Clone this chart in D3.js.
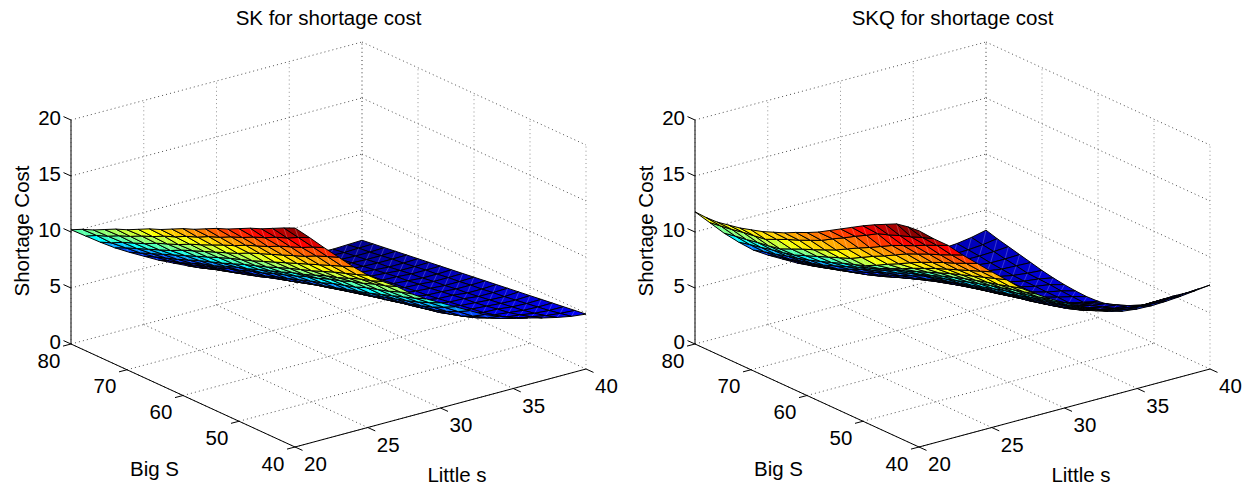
<!DOCTYPE html>
<html><head><meta charset="utf-8">
<style>html,body{margin:0;padding:0;background:#fff}svg{display:block}text{font-family:"Liberation Sans",Arial,sans-serif;fill:#000;font-size:20.5px}</style>
<script src="https://cdn.jsdelivr.net/npm/d3@7/dist/d3.min.js"></script>
</head><body><svg id="c" width="1247" height="485"></svg>
<script>
const littleS = d3.range(20, 41, 1);
const bigS = d3.range(80, 39, -2);
const littleTicks = [20, 25, 30, 35, 40];
const bigTicks = [80, 70, 60, 50, 40];
const costTicks = [0, 5, 10, 15, 20];
const titles = ["SK for shortage cost", "SKQ for shortage cost"];

// one list per Little s value; entries run from Big S = 80 to Big S = 40
const skCost = [
[10.2,10.7,11.1,11.6,12.1,12.5,13.0,13.5,13.9,14.4,14.9,15.3,15.8,16.3,16.7,17.2,17.7,18.1,18.6,19.1,19.55],
[9.3,9.8,10.2,10.7,11.1,11.6,12.0,12.5,12.9,13.4,13.8,14.3,14.7,15.2,15.6,16.1,16.5,17.0,17.4,17.9,18.35],
[8.4,8.8,9.3,9.7,10.1,10.6,11.0,11.4,11.9,12.3,12.75,13.2,13.6,14.1,14.5,14.9,15.4,15.8,16.2,16.7,17.1],
[7.55,8.0,8.4,8.8,9.2,9.6,10.1,10.5,10.9,11.3,11.7,12.1,12.6,13.0,13.4,13.8,14.2,14.6,15.1,15.5,15.9],
[6.8,7.2,7.6,8.0,8.4,8.8,9.2,9.6,10.0,10.4,10.75,11.1,11.5,11.9,12.3,12.7,13.1,13.5,13.9,14.3,14.7],
[6.1,6.5,6.85,7.2,7.6,8.0,8.35,8.7,9.1,9.5,9.85,10.2,10.6,11.0,11.35,11.7,12.1,12.5,12.85,13.2,13.6],
[5.4,5.8,6.1,6.5,6.9,7.2,7.6,8.0,8.3,8.7,9.05,9.4,9.8,10.1,10.5,10.9,11.2,11.6,12.0,12.3,12.7],
[4.8,5.2,5.5,5.9,6.2,6.6,6.9,7.3,7.6,8.0,8.35,8.7,9.1,9.4,9.8,10.1,10.5,10.8,11.2,11.5,11.9],
[4.2,4.5,4.9,5.2,5.5,5.9,6.2,6.5,6.9,7.2,7.55,7.9,8.2,8.6,8.9,9.2,9.6,9.9,10.2,10.6,10.9],
[3.65,4.0,4.3,4.6,4.9,5.2,5.55,5.9,6.15,6.5,6.8,7.1,7.4,7.7,8.0,8.3,8.65,9.0,9.35,9.7,10.1],
[3.3,3.6,3.9,4.2,4.45,4.75,5.0,5.3,5.6,5.9,6.15,6.45,6.7,7.0,7.25,7.6,7.9,8.2,8.55,8.95,9.4],
[3.0,3.3,3.55,3.8,4.05,4.35,4.6,4.85,5.1,5.3,5.55,5.8,6.05,6.3,6.55,6.85,7.1,7.4,7.75,8.2,8.7],
[2.8,3.05,3.3,3.5,3.75,4.0,4.2,4.4,4.6,4.8,5.0,5.2,5.45,5.65,5.9,6.1,6.35,6.65,7.0,7.45,8.0],
[2.6,2.85,3.05,3.25,3.45,3.65,3.8,4.0,4.15,4.35,4.5,4.7,4.85,5.05,5.25,5.45,5.65,5.95,6.25,6.7,7.3],
[2.5,2.7,2.9,3.05,3.25,3.4,3.55,3.7,3.85,4.0,4.15,4.3,4.45,4.6,4.75,4.95,5.15,5.4,5.75,6.2,6.8],
[2.4,2.6,2.75,2.9,3.1,3.25,3.4,3.55,3.65,3.8,3.9,4.05,4.2,4.35,4.5,4.65,4.85,5.1,5.4,5.8,6.35],
[2.3,2.45,2.65,2.8,2.95,3.1,3.25,3.35,3.5,3.6,3.75,3.85,4.0,4.15,4.3,4.45,4.6,4.85,5.1,5.45,5.95],
[2.25,2.4,2.55,2.7,2.85,3.0,3.15,3.3,3.4,3.55,3.65,3.8,3.95,4.1,4.2,4.35,4.55,4.7,4.95,5.25,5.6],
[2.2,2.35,2.5,2.65,2.8,2.9,3.05,3.2,3.3,3.45,3.55,3.7,3.8,3.95,4.1,4.25,4.4,4.55,4.75,5.0,5.3],
[2.25,2.4,2.5,2.65,2.8,2.9,3.05,3.2,3.3,3.45,3.55,3.7,3.8,3.95,4.05,4.2,4.35,4.5,4.65,4.85,5.05],
[2.3,2.43,2.56,2.69,2.82,2.95,3.08,3.21,3.34,3.47,3.6,3.73,3.86,3.99,4.12,4.25,4.38,4.51,4.64,4.77,4.9]
];
const skqCost = [
[11.8,11.75,11.8,12.0,12.2,12.5,12.8,13.2,13.6,14.1,14.55,15.05,15.65,16.25,16.85,17.45,18.0,18.5,19.0,19.2,19.3],
[10.5,10.65,10.8,11.0,11.15,11.3,11.75,12.2,12.6,13.05,13.5,14.1,14.65,15.25,15.8,16.4,16.75,17.15,17.5,17.9,18.25],
[9.2,9.4,9.55,9.75,9.9,10.1,10.55,11.0,11.4,11.85,12.3,12.85,13.4,13.9,14.45,15.0,15.45,15.9,16.4,16.85,17.3],
[8.05,8.3,8.5,8.75,8.95,9.2,9.6,10.0,10.4,10.8,11.2,11.75,12.3,12.8,13.35,13.9,14.35,14.8,15.2,15.65,16.1],
[7.0,7.3,7.55,7.85,8.1,8.4,8.75,9.1,9.5,9.85,10.2,10.7,11.25,11.75,12.3,12.8,13.25,13.7,14.1,14.55,15.0],
[6.2,6.5,6.75,7.05,7.3,7.6,8.0,8.4,8.8,9.2,9.6,10.05,10.5,11.0,11.45,11.9,12.3,12.7,13.1,13.5,13.9],
[5.5,5.8,6.05,6.35,6.6,6.9,7.35,7.8,8.2,8.65,9.1,9.5,9.9,10.3,10.7,11.1,11.45,11.8,12.15,12.5,12.85],
[4.8,5.1,5.4,5.7,6.0,6.3,6.75,7.2,7.6,8.05,8.5,8.85,9.2,9.6,9.95,10.3,10.6,10.9,11.15,11.45,11.75],
[4.2,4.5,4.8,5.1,5.4,5.7,6.15,6.6,7.0,7.45,7.9,8.2,8.55,8.85,9.2,9.5,9.8,10.05,10.35,10.6,10.9],
[3.7,4.0,4.3,4.6,4.9,5.2,5.6,6.0,6.4,6.8,7.2,7.5,7.8,8.1,8.4,8.7,9.0,9.25,9.55,9.8,10.1],
[3.4,3.7,3.95,4.25,4.5,4.8,5.15,5.5,5.9,6.25,6.6,6.85,7.1,7.4,7.65,7.9,8.2,8.5,8.8,9.1,9.4],
[3.15,3.4,3.65,3.9,4.15,4.4,4.7,5.0,5.3,5.6,5.9,6.15,6.4,6.7,6.95,7.2,7.5,7.8,8.1,8.4,8.7],
[3.0,3.2,3.4,3.6,3.8,4.0,4.25,4.5,4.75,5.0,5.25,5.5,5.75,6.0,6.25,6.5,6.8,7.15,7.45,7.8,8.1],
[2.85,3.0,3.15,3.35,3.5,3.65,3.85,4.05,4.2,4.4,4.6,4.85,5.1,5.3,5.55,5.8,6.15,6.5,6.9,7.25,7.6],
[2.75,2.85,3.0,3.1,3.2,3.3,3.45,3.6,3.7,3.85,4.0,4.25,4.5,4.7,4.95,5.2,5.6,6.0,6.45,6.85,7.25],
[2.65,2.7,2.8,2.85,2.95,3.0,3.1,3.15,3.25,3.3,3.4,3.65,3.9,4.2,4.45,4.7,5.2,5.65,6.15,6.6,7.1],
[2.6,2.6,2.6,2.6,2.6,2.6,2.65,2.7,2.8,2.85,2.9,3.2,3.45,3.75,4.0,4.3,4.85,5.4,5.95,6.5,7.05],
[2.6,2.55,2.5,2.5,2.45,2.4,2.4,2.4,2.4,2.4,2.4,2.7,3.0,3.3,3.6,3.9,4.55,5.2,5.8,6.45,7.1],
[2.7,2.6,2.5,2.35,2.25,2.15,2.1,2.1,2.05,2.05,2.0,2.35,2.7,3.0,3.35,3.7,4.4,5.1,5.8,6.5,7.2],
[2.9,2.7,2.55,2.35,2.2,2.0,1.95,1.9,1.8,1.75,1.7,2.1,2.5,2.85,3.25,3.65,4.4,5.15,5.85,6.6,7.35],
[3.2,2.9,2.65,2.4,2.15,1.9,1.7,1.55,1.45,1.4,1.45,1.6,1.85,2.3,2.95,3.7,4.45,5.2,5.9,6.7,7.5]
];

const jet = d3.scaleLinear()
  .domain([0, .125, .375, .625, .875, 1])
  .range(["#000090", "#0000ff", "#00ffff", "#ffff00", "#ff0000", "#800000"]);
const colorFrac = [
  d3.scaleLinear().domain([2.2, 5, 7.5, 10.2, 19.55]).range([0, .12, .2, .46, 1]).clamp(true),
  d3.scaleLinear().domain([1.4, 3.2, 7.5, 11.8, 19.3]).range([.1, .03, .2, .62, 1]).clamp(true)
];

const svg = d3.select("#c");
function panel(dx, title, cost, frac) {
  const g = svg.append("g").attr("transform", `translate(${dx},0)`);
  const uS = d3.scaleLinear().domain([80, 40]).range([0, 1]);
  const vS = d3.scaleLinear().domain([20, 40]).range([0, 1]);
  const xU = d3.scaleLinear().domain([0, 1]).range([71, 295]);
  const yU = d3.scaleLinear().domain([0, 1]).range([344, 447]);
  const xV = d3.scaleLinear().domain([0, 1]).range([0, 291]);
  const yV = d3.scaleLinear().domain([0, 1]).range([0, -78]);
  const zS = d3.scaleLinear().domain([0, 20]).range([0, -224]);
  const P = (s, S, z) => [xU(uS(S)) + xV(vS(s)), yU(uS(S)) + yV(vS(s)) + zS(z)];
  const line = d3.line();

  const grid = g.append("g").attr("fill", "none")
    .attr("stroke-width", 0.8).attr("stroke-dasharray", "1 3.1");
  const seg = (a, b, c = "#222") => grid.append("path").attr("stroke", c).attr("d", line([a, b]));
  littleTicks.forEach(s => {
    seg(P(s, 80, 0), P(s, 40, 0));
    seg(P(s, 80, 0), P(s, 80, 20), s === 40 ? "#000" : "#777");
  });
  bigTicks.forEach(S => {
    seg(P(20, S, 0), P(40, S, 0));
    if (S !== 80) seg(P(40, S, 0), P(40, S, 20), "#777");
  });
  costTicks.forEach(z => {
    if (z > 0) { seg(P(20, 80, z), P(40, 80, z)); seg(P(40, 80, z), P(40, 40, z)); }
  });

  // surface, painted far to near; each cell shows a faint seam along one diagonal
  const mesh = g.append("g").attr("stroke-linejoin", "round");
  for (let j = littleS.length - 2; j >= 0; j--) {
    for (let i = 0; i < bigS.length - 1; i++) {
      const q = [[i, j], [i + 1, j], [i + 1, j + 1], [i, j + 1]]
        .map(([a, b]) => P(littleS[b], bigS[a], cost[b][a]));
      mesh.append("path").attr("d", line(q) + "Z").attr("fill", jet(frac(cost[j][i])));
      mesh.append("path").attr("d", line([q[1], q[3]])).attr("fill", "none")
        .attr("stroke", "#fff").attr("stroke-opacity", 0.4).attr("stroke-width", 0.6);
      mesh.append("path").attr("d", line(q) + "Z").attr("fill", "none")
        .attr("stroke", "#000").attr("stroke-width", 1);
    }
  }

  const axis = g.append("g").attr("stroke", "#000").attr("stroke-width", 1).attr("fill", "none");
  axis.append("path").attr("d", line([P(20, 80, 0), P(20, 80, 20)]));
  axis.append("path").attr("d", line([P(20, 80, 0), P(20, 40, 0), P(40, 40, 0)]));
  const tick = (p, d) => axis.append("path").attr("d", line([p, [p[0] + d[0], p[1] + d[1]]]));
  costTicks.forEach(z => tick(P(20, 80, z), [-7.5, -3.4]));
  bigTicks.forEach(S => tick(P(20, S, 0), [-8, 2.1]));
  littleTicks.forEach(s => tick(P(s, 40, 0), [7.5, 3.4]));

  const label = (x, y, t, anchor = "middle") => g.append("text").attr("x", x).attr("y", y)
    .attr("text-anchor", anchor).attr("dominant-baseline", "central").text(t);
  costTicks.forEach(z => { const p = P(20, 80, z); label(p[0] - 10, p[1] - 3, z, "end"); });
  bigTicks.forEach(S => { const p = P(20, S, 0); label(p[0] - 22, p[1] + 16, S); });
  littleTicks.forEach(s => { const p = P(s, 40, 0); label(p[0] + 20.5, p[1] + 16.5, s); });
  label(154.5, 468, "Big S");
  label(457, 474.5, "Little s");
  label(328.5, 17.5, title);
  g.append("text").attr("transform", "translate(21,231) rotate(-90)")
    .attr("text-anchor", "middle").attr("dominant-baseline", "central").text("Shortage Cost");
}
panel(0, titles[0], skCost, colorFrac[0]);
panel(624, titles[1], skqCost, colorFrac[1]);
</script></body></html>
